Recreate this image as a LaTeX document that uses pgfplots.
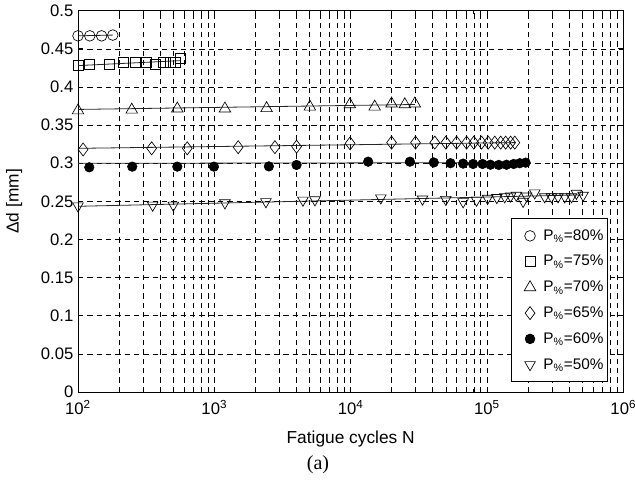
\documentclass[border=0pt]{standalone}
\usepackage{fontspec}
\setmainfont{Liberation Sans}
\newfontfamily\seriffont{Liberation Serif}
\usepackage{pgfplots}
\pgfplotsset{compat=1.18}

\begin{document}
\begin{tikzpicture}
\begin{axis}[
  at={(0pt,0pt)}, anchor=south west,
  scale only axis, width=409pt, height=286pt,
  xmode=log, xmin=100, xmax=1000000, ymin=0, ymax=0.5,
  xtick={100,1000,10000,100000,1000000},
  xticklabels={10\textsuperscript{2},10\textsuperscript{3},10\textsuperscript{4},10\textsuperscript{5},10\textsuperscript{6}},
  ytick={0,0.05,0.1,0.15,0.2,0.25,0.3,0.35,0.4,0.45,0.5},
  yticklabels={0,0.05,0.1,0.15,0.2,0.25,0.3,0.35,0.4,0.45,0.5},
  xtick pos=both, ytick pos=both,
  xticklabel pos=lower, yticklabel pos=left,
  tick align=inside,
  major tick length=4pt, minor tick length=2.5pt,
  tick style={black, line width=0.5pt},
  axis line style={black, line width=0.7pt},
  xmajorgrids, xminorgrids, ymajorgrids,
  major grid style={black, line width=0.4pt, dash pattern=on 4pt off 3pt},
  minor grid style={black, line width=0.4pt, dash pattern=on 4pt off 3pt},
  xlabel={Fatigue cycles N},
  ylabel={Δd [mm]},
  label style={font=\fontsize{13}{15}\selectfont},
  xlabel style={yshift=-5pt},
  ylabel style={at={(axis description cs:-0.1173,0.5)}, anchor=center},
  tick label style={font=\fontsize{12.5}{15}\selectfont},
  xticklabel style={yshift=-3pt},
  clip=false,
  legend style={at={(0.9716,0.026)}, anchor=south east, draw=black, line width=0.6pt,
    font=\fontsize{11.5}{13.5}\selectfont, row sep=5.8pt, inner xsep=1pt, inner ysep=6pt},
  legend image code/.code={%
    \path[draw=none,fill=none] (0pt,-1pt) rectangle (21pt,1pt);
    \draw[mark repeat=1,#1] plot coordinates {(13pt,0pt)};},
  legend cell align=left,
]
% fit lines
\addplot[black!85, line width=0.6pt, forget plot] coordinates {(100,0.467) (180,0.468)};
\addplot[black!85, line width=0.6pt, forget plot] coordinates {(100,0.428) (566,0.4345)};
\addplot[black!85, line width=0.6pt, forget plot] coordinates {(100,0.3705) (29560,0.377)};
\addplot[black!85, line width=0.6pt, forget plot] coordinates {(100,0.3195) (160000,0.327)};
\addplot[black!85, line width=0.6pt, forget plot] coordinates {(100,0.2998) (192000,0.3008)};
\addplot[black!85, line width=0.6pt, forget plot] coordinates {(100,0.2435) (507000,0.2585)};

% P80
\addplot[only marks, mark=o, mark size=4pt, mark options={black, line width=0.5pt}]
 coordinates {(100,0.467) (122,0.467) (149,0.467) (180,0.468)};
\addlegendentry{P\textsubscript{\%}=80\%}
% P75
\addplot[only marks, mark=square, mark size=3.75pt, mark options={black, line width=0.5pt}]
 coordinates {(100,0.428) (122,0.429) (169,0.429) (215,0.432) (265,0.432) (315,0.432)
 (367,0.429) (422,0.432) (473,0.432) (520,0.432) (566,0.437)};
\addlegendentry{P\textsubscript{\%}=75\%}
% P70
\addplot[only marks, mark=triangle, mark size=5pt, mark options={black, line width=0.5pt}]
 coordinates {(100,0.369) (248,0.370) (535,0.3715) (1196,0.3715) (2417,0.372) (5020,0.374)
 (9860,0.377) (15000,0.374) (19950,0.378) (24950,0.377) (29560,0.378)};
\addlegendentry{P\textsubscript{\%}=70\%}
% P65
\addplot[only marks, mark=diamond, mark size=4.9pt, mark options={black, line width=0.5pt}]
 coordinates {(109,0.318) (347,0.3195) (633,0.3195) (1496,0.321) (2782,0.321) (4010,0.3217)
 (9910,0.326) (19950,0.327) (29900,0.327) (41400,0.327) (49900,0.327) (59800,0.327)
 (70800,0.327) (80000,0.327) (91200,0.327) (102000,0.327) (114000,0.327) (126000,0.327)
 (137000,0.327) (149000,0.327) (160000,0.327)};
\addlegendentry{P\textsubscript{\%}=65\%}
% P60
\addplot[only marks, mark=*, mark size=3.6pt, mark options={black, fill=black}]
 coordinates {(121,0.2946) (250,0.2955) (535,0.2955) (993,0.2955) (2512,0.2958) (4010,0.2977)
 (13430,0.302) (27200,0.302) (40700,0.301) (54000,0.300) (66800,0.2995) (79100,0.299)
 (92700,0.299) (106000,0.298) (122000,0.2977) (139000,0.298) (157000,0.299) (174000,0.300)
 (192000,0.3007)};
\addlegendentry{P\textsubscript{\%}=60\%}
% P50
\addplot[only marks, mark=triangle, mark size=4.6pt, mark options={black, line width=0.5pt, rotate=180}]
 coordinates {(100,0.244) (353,0.245) (500,0.245) (1196,0.248) (2390,0.2495) (4467,0.2515)
 (5470,0.252) (16640,0.2545) (33650,0.253) (49900,0.2525) (66800,0.2495) (83800,0.2515)
 (101000,0.254) (118000,0.255) (135000,0.256) (149000,0.257) (164000,0.258) (184000,0.250)
 (195000,0.257) (224000,0.261) (265000,0.256) (297000,0.256) (332000,0.256) (372000,0.256)
 (417000,0.256) (453000,0.2605) (507000,0.258)};
\addlegendentry{P\textsubscript{\%}=50\%}
\end{axis}
\node[font=\seriffont\fontsize{15}{17}\selectfont] at (180pt,-54.5pt) {(a)};
\pgfresetboundingbox
\useasboundingbox (-58.5pt,-68.25pt) rectangle (417.75pt,294pt);
\end{tikzpicture}
\end{document}
